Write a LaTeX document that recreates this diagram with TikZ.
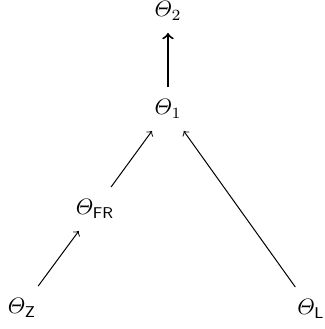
\documentclass[tikz,border=0pt]{standalone}
\usepackage{amsmath}
\begin{document}
\begin{tikzpicture}[x=0.449pt,y=-0.449pt,
  var/.style={inner sep=5.5pt},
  edge/.style={->,line width=0.45pt},
  bigedge/.style={->,line width=0.9pt}]
\useasboundingbox (0,0) rectangle (325,329);
\node[var] (t2) at (168,11) {$\varTheta_2$};
\node[var] (t1) at (168,109) {$\varTheta_1$};
\node[var] (fr) at (95,209) {$\varTheta_{\mathsf{FR}}$};
\node[var] (z) at (22,308) {$\varTheta_{\mathsf{Z}}$};
\node[var] (l) at (311,309) {$\varTheta_{\mathsf{L}}$};
\draw[bigedge] (t1) -- (t2);
\draw[edge] (fr) -- (t1);
\draw[edge] (z) -- (fr);
\draw[edge] (l) -- (t1);
\end{tikzpicture}
\end{document}
